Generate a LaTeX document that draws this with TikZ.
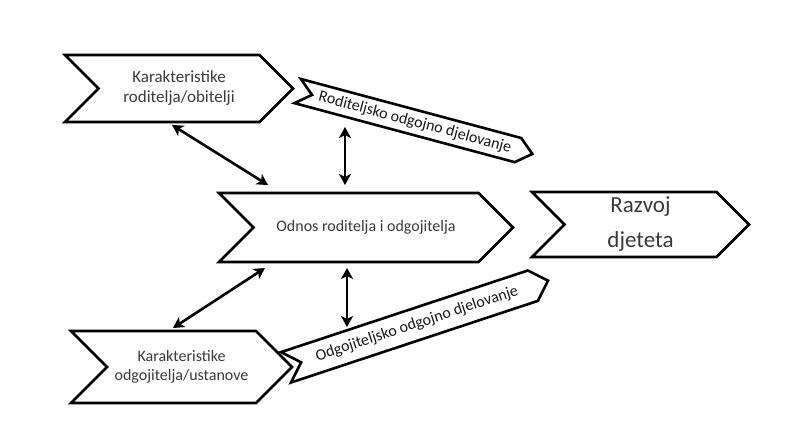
\documentclass[tikz,border=0pt]{standalone}
\usepackage{fontspec}
\setmainfont{Carlito}
\usetikzlibrary{arrows.meta,shapes.symbols}

\definecolor{boxtext}{HTML}{3A3A3A}

\tikzset{
  chevron/.style={signal, signal from=west, signal to=east, draw, fill=white,
    line width=2.6pt, inner sep=0pt, align=center, text=boxtext},
  band/.style={chevron, text=black!90},
  dblarrow/.style={line width=2.6pt,
    {Stealth[length=11pt,width=12pt,inset=3pt]}-{Stealth[length=11pt,width=12pt,inset=3pt]}}
}

\begin{document}
\begin{tikzpicture}[x=1pt,y=-1pt]
\useasboundingbox (0,0) rectangle (786,441);

% Pfeilformen
\node[chevron, minimum width=228pt, minimum height=67pt,
  font=\fontsize{17}{20}\selectfont] (kr) at (179,88.5)
  {Karakteristike\\roditelja/obitelji};
\node[chevron, minimum width=294pt, minimum height=69pt,
  font=\fontsize{16}{19}\selectfont] (odnos) at (366,227.5)
  {Odnos roditelja i odgojitelja};
\node[chevron, minimum width=217pt, minimum height=65pt,
  font=\fontsize{23}{35}\selectfont] (razvoj) at (640.5,224.5)
  {Razvoj\\djeteta};
\node[chevron, minimum width=221pt, minimum height=72pt,
  font=\fontsize{16}{19}\selectfont] (ko) at (181.5,367)
  {Karakteristike\\odgojitelja/ustanove};

% Baender
\node[band, rotate=-15, minimum width=243pt, minimum height=25pt,
  signal pointer angle=80, font=\fontsize{16}{19}\selectfont] (rod) at (415,122.5)
  {Roditeljsko odgojno djelovanje};
\node[band, rotate=18.3, minimum width=276pt, minimum height=32pt,
  font=\fontsize{16}{19}\selectfont] (odg) at (417,324)
  {Odgojiteljsko odgojno djelovanje};

% Doppelpfeile
\coordinate (krS) at (172,125);
\coordinate (odNW) at (268,185);
\coordinate (rodS) at (345,127);
\coordinate (odN) at (345,185);
\coordinate (odSW) at (265,268);
\coordinate (koN) at (173,328);
\coordinate (odS) at (347,268);
\coordinate (odgN) at (347,327);

\draw[dblarrow] (krS) -- (odNW);
\draw[dblarrow] (rodS) -- (odN);
\draw[dblarrow] (odSW) -- (koN);
\draw[dblarrow] (odS) -- (odgN);

\end{tikzpicture}
\end{document}
